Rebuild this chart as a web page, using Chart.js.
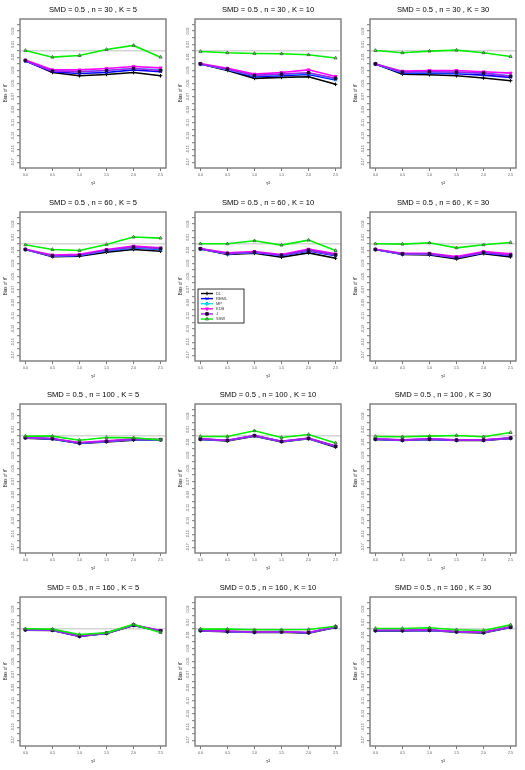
<!DOCTYPE html>
<html>
<head>
<meta charset="utf-8">
<script src="https://cdn.jsdelivr.net/npm/chart.js@4.4.1/dist/chart.umd.min.js"></script>
<style>
  body { margin: 0; background: #fff; }
  #grid { position: relative; width: 525px; height: 770px; }
  .panel { position: absolute; width: 175px; height: 192px; }
</style>
</head>
<body>
<div id="grid"></div>
<script>
// values
const smd = 0.5;
const tau2 = [0.0, 0.5, 1.0, 1.5, 2.0, 2.5];
const panelN = [30, 30, 30, 60, 60, 60, 100, 100, 100, 160, 160, 160];
const panelK = [5, 10, 30, 5, 10, 30, 5, 10, 30, 5, 10, 30];
const methods = ['DL', 'REML', 'MP', 'KDB', 'J', 'SSW'];

const biasDL = [
  [-0.015, -0.033, -0.038, -0.036, -0.033, -0.038],
  [-0.020, -0.030, -0.042, -0.0405, -0.0395, -0.051],
  [-0.020, -0.0355, -0.0365, -0.038, -0.0415, -0.0455],
  [-0.0087, -0.0195, -0.019, -0.0128, -0.0087, -0.0113],
  [-0.0077, -0.0164, -0.0144, -0.0205, -0.0138, -0.022],
  [-0.0087, -0.0164, -0.017, -0.023, -0.0149, -0.020],
  [-0.0036, -0.0051, -0.0118, -0.0092, -0.0067, -0.0067],
  [-0.0056, -0.0077, -0.0005, -0.0092, -0.0046, -0.0174],
  [-0.0056, -0.0072, -0.0056, -0.0072, -0.0072, -0.0041],
  [-0.002, -0.0025, -0.0118, -0.0072, 0.0051, -0.0036],
  [-0.0031, -0.0046, -0.0056, -0.0051, -0.0067, 0.0021],
  [-0.0031, -0.0031, -0.0026, -0.0051, -0.0062, 0.0021]
];
const biasREML = [
  [-0.0155, -0.032, -0.0345, -0.033, -0.029, -0.032],
  [-0.020, -0.029, -0.0395, -0.038, -0.036, -0.0445],
  [-0.020, -0.034, -0.034, -0.035, -0.037, -0.0405],
  [-0.0087, -0.019, -0.018, -0.0108, -0.0062, -0.0087],
  [-0.0077, -0.0154, -0.0133, -0.018, -0.0108, -0.018],
  [-0.0087, -0.0159, -0.0159, -0.0215, -0.0138, -0.018],
  [-0.0031, -0.0046, -0.0113, -0.0087, -0.0056, -0.0062],
  [-0.0051, -0.0072, 0.0, -0.0087, -0.0041, -0.0164],
  [-0.0051, -0.0067, -0.0051, -0.0067, -0.0067, -0.0036],
  [-0.0015, -0.002, -0.0113, -0.0067, 0.0056, -0.0031],
  [-0.0026, -0.004, -0.005, -0.0046, -0.006, 0.0026],
  [-0.0026, -0.0026, -0.002, -0.0046, -0.0056, 0.0026]
];
const biasMP = [
  [-0.015, -0.030, -0.032, -0.030, -0.027, -0.029],
  [-0.020, -0.0285, -0.038, -0.036, -0.034, -0.043],
  [-0.020, -0.033, -0.033, -0.033, -0.034, -0.038],
  [-0.0087, -0.0185, -0.0175, -0.0103, -0.0057, -0.0077],
  [-0.0077, -0.0149, -0.0128, -0.0174, -0.0097, -0.0169],
  [-0.0087, -0.0154, -0.0154, -0.0205, -0.0133, -0.0169],
  [-0.003, -0.0044, -0.011, -0.0085, -0.0054, -0.006],
  [-0.005, -0.007, 0.0002, -0.0085, -0.004, -0.016],
  [-0.005, -0.0065, -0.005, -0.0065, -0.0065, -0.0035],
  [-0.0015, -0.002, -0.011, -0.0066, 0.0057, -0.003],
  [-0.0025, -0.004, -0.005, -0.0045, -0.006, 0.0026],
  [-0.0025, -0.0025, -0.002, -0.0045, -0.0055, 0.0026]
];
const biasKDB = [
  [-0.014, -0.029, -0.029, -0.027, -0.024, -0.026],
  [-0.0195, -0.0265, -0.0355, -0.033, -0.029, -0.039],
  [-0.020, -0.031, -0.030, -0.030, -0.032, -0.034],
  [-0.0082, -0.017, -0.016, -0.0087, -0.0036, -0.0062],
  [-0.0072, -0.0138, -0.0118, -0.0164, -0.0082, -0.0154],
  [-0.0082, -0.0144, -0.0144, -0.0195, -0.0118, -0.0154],
  [-0.0026, -0.0041, -0.0103, -0.0077, -0.0046, -0.0056],
  [-0.0046, -0.0067, 0.0005, -0.0082, -0.0036, -0.0154],
  [-0.0046, -0.0062, -0.0046, -0.0062, -0.0062, -0.0031],
  [-0.001, -0.0015, -0.0108, -0.0062, 0.0062, -0.0026],
  [-0.0021, -0.0036, -0.0046, -0.0041, -0.0056, 0.0031],
  [-0.0021, -0.0021, -0.0015, -0.0041, -0.0051, 0.0031]
];
const biasJ = [
  [-0.015, -0.031, -0.032, -0.030, -0.027, -0.030],
  [-0.020, -0.028, -0.0375, -0.0355, -0.0335, -0.042],
  [-0.020, -0.0325, -0.032, -0.0325, -0.034, -0.039],
  [-0.0087, -0.0185, -0.0175, -0.0098, -0.0051, -0.0072],
  [-0.0077, -0.0149, -0.0128, -0.0174, -0.0097, -0.0169],
  [-0.0087, -0.0154, -0.0154, -0.021, -0.0133, -0.0174],
  [-0.003, -0.0045, -0.011, -0.0085, -0.0054, -0.006],
  [-0.005, -0.007, 0.0002, -0.0085, -0.004, -0.016],
  [-0.005, -0.0066, -0.005, -0.0066, -0.0066, -0.0035],
  [-0.0015, -0.002, -0.0112, -0.0067, 0.0056, -0.0031],
  [-0.0026, -0.004, -0.005, -0.0046, -0.006, 0.0026],
  [-0.0026, -0.0026, -0.002, -0.0046, -0.0056, 0.0026]
];
const biasSSW = [
  [0.0005, -0.0097, -0.0072, 0.002, 0.0082, -0.0097],
  [-0.001, -0.003, -0.004, -0.0045, -0.006, -0.011],
  [0.0005, -0.003, -0.0005, 0.001, -0.003, -0.0087],
  [-0.0015, -0.0087, -0.0103, -0.001, 0.0103, 0.0087],
  [0.0, 0.0, 0.0046, -0.002, 0.0056, -0.0103],
  [0.0, -0.0005, 0.0015, -0.0062, -0.0015, 0.002],
  [-0.0005, -0.0005, -0.0067, -0.0026, -0.003, -0.0062],
  [-0.001, -0.001, 0.0077, -0.0026, 0.002, -0.0108],
  [-0.001, -0.0015, -0.0005, 0.0005, -0.0015, 0.005],
  [0.0, -0.0005, -0.0087, -0.0062, 0.0067, -0.0056],
  [-0.0005, -0.0005, -0.0015, -0.0015, -0.001, 0.004],
  [0.0005, 0.0005, 0.0015, -0.0015, -0.0026, 0.006]
];
const seriesByMethod = { DL: biasDL, REML: biasREML, MP: biasMP, KDB: biasKDB, J: biasJ, SSW: biasSSW };

// y ticks every 0.01, labels only on the odd ones (like R dropping overlaps)
const yTicks = [];
for (let i = -17; i <= 4; i++) yTicks.push(i / 100);

// styles
const lineColors = ['#000000', '#0000ff', '#00e5ff', '#ff00ff', '#a020f0', '#00ee00'];
const pointFill = ['#000000', '#0000ff', '#00e5ff', '#ff00ff', '#1e0830', 'rgba(0,0,0,0)'];
const pointEdge = ['#000000', '#0000ff', '#00b8cc', '#ff00ff', '#1e0830', '#3b7a3b'];
const pointShapes = ['cross', 'crossRot', 'rectRot', 'triangle', 'rect', 'triangle'];
const pointRot = [0, 0, 0, 180, 0, 0];
const FONT = '"Liberation Sans", Arial, sans-serif';

const framePlugin = {
  id: 'frame',
  afterDraw(chart) {
    const a = chart.chartArea, ctx = chart.ctx;
    ctx.save();
    ctx.strokeStyle = '#7a7a7a';
    ctx.lineWidth = 1.4;
    ctx.strokeRect(a.left, a.top, a.right - a.left, a.bottom - a.top);

    // rotated y tick labels
    const ys = chart.scales.y;
    ctx.fillStyle = '#555';
    ctx.font = '3.6px ' + FONT;
    ctx.textAlign = 'center';
    ctx.textBaseline = 'bottom';
    ys.ticks.forEach(t => {
      if (Math.abs(Math.round(t.value * 100)) % 2 !== 1) return;
      const py = ys.getPixelForValue(t.value);
      ctx.save();
      ctx.translate(ys.right - 5, py);
      ctx.rotate(-Math.PI / 2);
      ctx.fillText(t.value.toFixed(2), 0, 0);
      ctx.restore();
    });
    ctx.restore();
  }
};

const legendPlugin = {
  id: 'methodLegend',
  afterDraw(chart, args, opts) {
    if (!opts.show) return;
    const a = chart.chartArea, ctx = chart.ctx;
    const bx = a.left + 3, by = a.top + 77, bw = 46, bh = 34;
    ctx.save();
    ctx.fillStyle = '#fff';
    ctx.fillRect(bx, by, bw, bh);
    ctx.strokeStyle = '#000';
    ctx.lineWidth = 0.8;
    ctx.strokeRect(bx, by, bw, bh);
    ctx.font = '4px ' + FONT;
    ctx.textBaseline = 'middle';
    methods.forEach((m, i) => {
      const y = by + 4.5 + i * 5.1;
      ctx.strokeStyle = lineColors[i];
      ctx.lineWidth = 1.4;
      ctx.beginPath();
      ctx.moveTo(bx + 3, y);
      ctx.lineTo(bx + 15, y);
      ctx.stroke();
      ctx.fillStyle = pointFill[i];
      ctx.strokeStyle = pointEdge[i];
      ctx.lineWidth = 1;
      if (Chart.helpers && Chart.helpers.drawPoint) {
        Chart.helpers.drawPoint(ctx, { pointStyle: pointShapes[i], radius: 1.8, rotation: pointRot[i], borderWidth: 1 }, bx + 9, y);
      }
      ctx.fillStyle = '#333';
      ctx.fillText(m, bx + 18, y);
    });
    ctx.restore();
  }
};

const grid = document.getElementById('grid');

for (let p = 0; p < 12; p++) {
  const row = Math.floor(p / 3), col = p % 3;
  const box = document.createElement('div');
  box.className = 'panel';
  box.style.left = (col * 175) + 'px';
  box.style.top = Math.round(row * 192.5) + 'px';
  const cv = document.createElement('canvas');
  box.appendChild(cv);
  grid.appendChild(box);

  const datasets = methods.map((m, i) => ({
    label: m,
    data: tau2.map((t, j) => ({ x: t, y: seriesByMethod[m][p][j] })),
    borderColor: lineColors[i],
    borderWidth: 1.6,
    pointStyle: pointShapes[i],
    pointRotation: pointRot[i],
    pointRadius: 1.8,
    pointBorderWidth: 1,
    pointBackgroundColor: pointFill[i],
    pointBorderColor: pointEdge[i],
    tension: 0,
    fill: false,
    order: methods.length - i
  }));

  new Chart(cv, {
    type: 'line',
    data: { datasets },
    plugins: [framePlugin, legendPlugin],
    options: {
      animation: false,
      responsive: true,
      maintainAspectRatio: false,
      layout: { padding: { left: 0, right: 9, top: 0, bottom: 0 } },
      plugins: {
        legend: { display: false },
        tooltip: { enabled: false },
        methodLegend: { show: p === 4 },
        title: {
          display: true,
          fullSize: false,
          text: 'SMD = ' + smd + ' , n = ' + panelN[p] + ' , K = ' + panelK[p],
          color: '#000',
          font: { family: FONT, size: 7.6, weight: 'normal' },
          padding: { top: 5.4, bottom: 4.5 }
        }
      },
      scales: {
        x: {
          type: 'linear',
          min: -0.1,
          max: 2.6,
          afterBuildTicks: s => { s.ticks = tau2.map(v => ({ value: v })); },
          afterFit: s => { s.height = 24; },
          border: { display: false },
          grid: { drawOnChartArea: false, drawTicks: true, tickLength: 3, tickColor: '#555', tickWidth: 0.8 },
          ticks: {
            autoSkip: false, maxRotation: 0, minRotation: 0,
            padding: 2, color: '#555',
            font: { family: FONT, size: 3.6 },
            callback: v => Number(v).toFixed(1)
          },
          title: {
            display: true, text: 'τ²', color: '#333',
            font: { family: FONT, size: 5.5 },
            padding: { top: 0, bottom: 5.5 }
          }
        },
        y: {
          type: 'linear',
          min: -0.1785,
          max: 0.0484,
          afterBuildTicks: s => { s.ticks = yTicks.map(v => ({ value: v })); },
          afterFit: s => { s.width = 20; },
          border: { display: false },
          grid: {
            drawOnChartArea: true,
            drawTicks: true,
            tickLength: 3,
            tickWidth: 0.8,
            tickColor: '#555',
            lineWidth: 1.4,
            color: c => (c.tick && Math.abs(c.tick.value) < 1e-9) ? '#d4d4d4' : 'rgba(0,0,0,0)'
          },
          ticks: { display: false },
          title: {
            display: true, text: 'Bias of θ̂', color: '#333',
            font: { family: FONT, size: 4.5 },
            padding: { top: 3, bottom: 0 }
          }
        }
      }
    }
  });
}
</script>
</body>
</html>
